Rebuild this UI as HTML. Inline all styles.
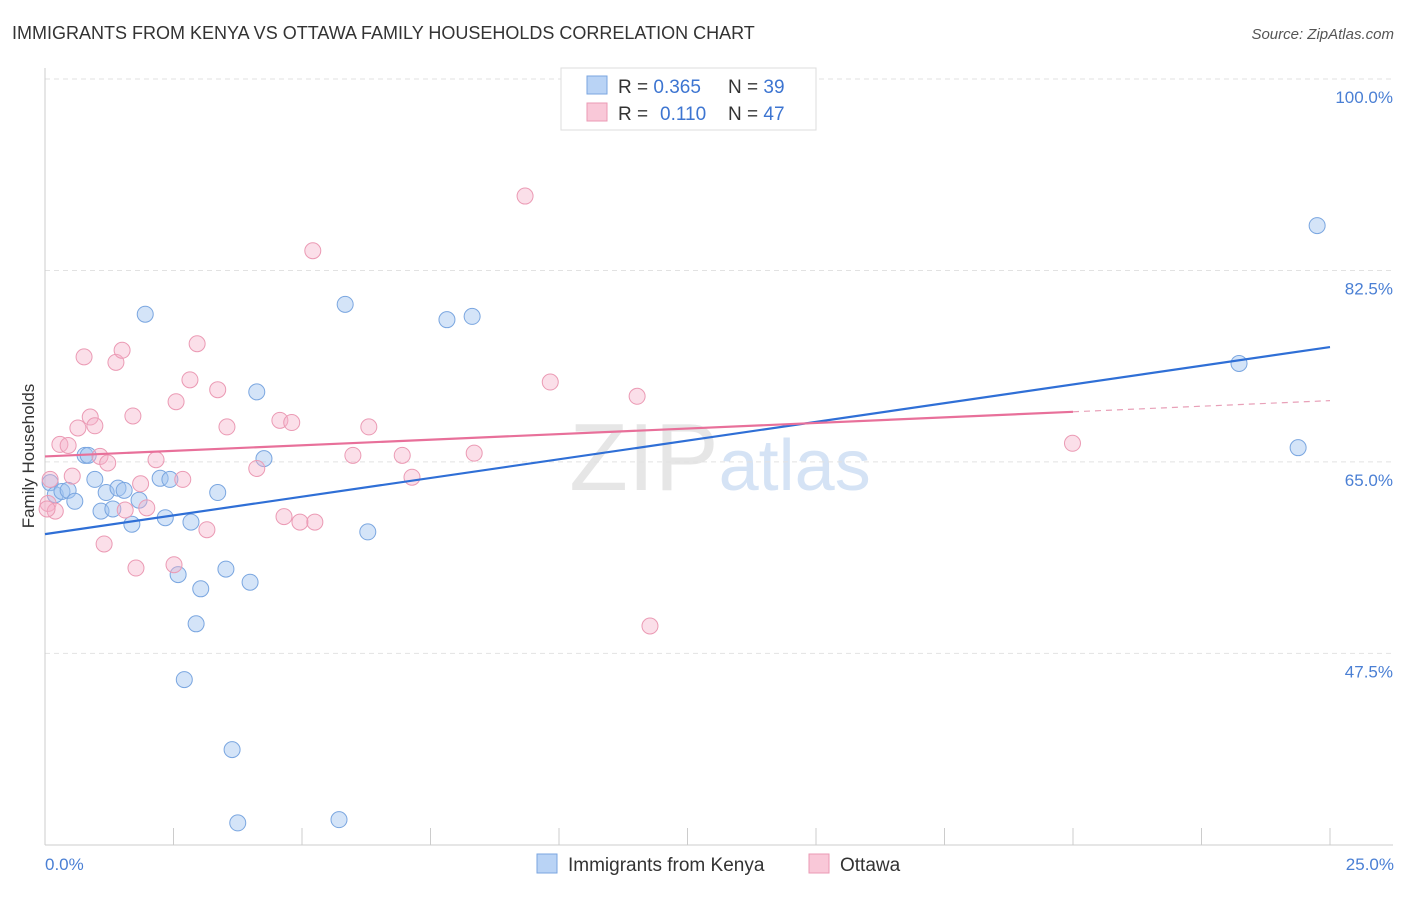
<!DOCTYPE html>
<html><head><meta charset="utf-8"><style>
body{margin:0;background:#fff;font-family:"Liberation Sans",sans-serif;}
svg text{font-family:"Liberation Sans",sans-serif;}
</style></head><body>
<svg id="chart" width="1406" height="892" xmlns="http://www.w3.org/2000/svg">
<text x="12" y="39" font-size="18" fill="#333">IMMIGRANTS FROM KENYA VS OTTAWA FAMILY HOUSEHOLDS CORRELATION CHART</text>
<text x="1394" y="39" font-size="15" fill="#555" text-anchor="end" font-style="italic">Source: ZipAtlas.com</text>
<text x="720" y="490" font-size="96" fill="#e6e6e6" text-anchor="middle" font-family="Liberation Serif">ZIP<tspan fill="#d5e3f5" font-family="Liberation Sans" font-size="72">atlas</tspan></text>
<g id="grid"></g>
<line x1="45" y1="68" x2="45" y2="845" stroke="#ccc"/>
<line x1="45" y1="845" x2="1393" y2="845" stroke="#ccc"/>
<g id="xticks"></g>
<text transform="translate(34,456) rotate(-90)" font-size="17" fill="#333" text-anchor="middle">Family Households</text>
<text x="45" y="870" font-size="17" fill="#4a7fd4">0.0%</text>
<text x="1394" y="870" font-size="17" fill="#4a7fd4" text-anchor="end">25.0%</text>
<g id="points"></g>
<g id="lines"></g>
<g>
<rect x="561" y="68" width="255" height="62" fill="#fff" stroke="#ddd"/>
<rect x="587" y="76" width="20" height="18" fill="#b9d3f5" stroke="#7aa6e0"/>
<rect x="587" y="103" width="20" height="18" fill="#f9c8d8" stroke="#eb9ab4"/>
<text x="618" y="93" font-size="19" fill="#333">R = <tspan fill="#3d75d1">0.365</tspan><tspan x="728">N = </tspan><tspan fill="#3d75d1">39</tspan></text>
<text x="618" y="120" font-size="19" fill="#333">R = <tspan fill="#3d75d1" x="660">0.110</tspan><tspan x="728">N = </tspan><tspan fill="#3d75d1">47</tspan></text>
</g>
<g>
<rect x="537" y="854" width="20" height="19" fill="#b9d3f5" stroke="#7aa6e0"/>
<text x="568" y="871" font-size="19" fill="#333">Immigrants from Kenya</text>
<rect x="809" y="854" width="20" height="19" fill="#f9c8d8" stroke="#eb9ab4"/>
<text x="840" y="871" font-size="19" fill="#333">Ottawa</text>
</g>
</svg>
<script>
const yTicks=[100,82.5,65,47.5];
const yTickLabels=["100.0%","82.5%","65.0%","47.5%"];
const xTicks=[0,2.5,5,7.5,10,12.5,15,17.5,20,22.5,25];
const kenyaX=[0.1,0.2,0.33,0.45,0.58,0.78,0.84,0.97,1.09,1.19,1.32,1.42,1.54,1.69,1.83,1.95,2.24,2.34,2.43,2.59,2.71,2.84,2.94,3.03,3.36,3.52,3.64,3.75,3.99,4.12,4.26,5.72,5.84,6.28,7.82,8.31,23.23,24.38,24.75];
const kenyaY=[63.1,62.0,62.3,62.4,61.4,65.6,65.6,63.4,60.5,62.2,60.7,62.6,62.4,59.3,61.5,78.5,63.5,59.9,63.4,54.7,45.1,59.5,50.2,53.4,62.2,55.2,38.7,32.0,54.0,71.4,65.3,32.3,79.4,58.6,78.0,78.3,74.0,66.3,86.6];
const ottawaX=[0.1,0.06,0.2,0.29,0.45,0.53,0.64,0.76,0.88,0.97,1.07,1.15,1.22,1.38,1.5,1.56,1.71,1.77,1.86,1.98,2.16,2.51,2.55,2.68,2.82,2.96,3.15,3.36,3.54,4.12,4.57,4.65,4.8,4.96,5.21,5.25,5.99,6.3,6.95,7.14,8.35,9.34,9.83,11.52,11.77,19.99,0.04];
const ottawaY=[63.4,61.2,60.5,66.6,66.5,63.7,68.1,74.6,69.1,68.3,65.5,57.5,64.9,74.1,75.2,60.6,69.2,55.3,63.0,60.8,65.2,55.6,70.5,63.4,72.5,75.8,58.8,71.6,68.2,64.4,68.8,60.0,68.6,59.5,84.3,59.5,65.6,68.2,65.6,63.6,65.8,89.3,72.3,71.0,50.0,66.7,60.7];
const kenyaLine=[58.4,75.5];
const ottawaLine=[65.5,70.6];
const ottawaSolidEnd=20;
const X=v=>45+v/25*1285, Y=v=>79+(100-v)*10.94;
const NS="http://www.w3.org/2000/svg";
function mk(tag,attrs,parent){const e=document.createElementNS(NS,tag);for(const k in attrs)e.setAttribute(k,attrs[k]);document.getElementById(parent).appendChild(e);return e;}
yTicks.forEach((t,i)=>{
 const l=mk('line',{x1:45,x2:1393,y1:Y(t),y2:Y(t),stroke:'#e2e2e2','stroke-dasharray':'5,4'},'grid');
 
 
 const tx=mk('text',{x:1393,y:Y(t)+24,'font-size':17,fill:'#4a7fd4','text-anchor':'end'},'grid');
 tx.textContent=yTickLabels[i];
 
 
});
xTicks.forEach(t=>{
 const l=mk('line',{x1:X(t),x2:X(t),y1:828,y2:845,stroke:'#ccc'},'xticks');
 
 
});
kenyaX.forEach((x,i)=>{
 const c=mk('circle',{cx:X(x),cy:Y(kenyaY[i]),r:8,fill:'rgba(160,195,240,0.45)',stroke:'#7aa6e0','stroke-width':1},'points');
 
 
});
ottawaX.forEach((x,i)=>{
 const c=mk('circle',{cx:X(x),cy:Y(ottawaY[i]),r:8,fill:'rgba(245,175,200,0.4)',stroke:'#eb9ab4','stroke-width':1},'points');
 
 
});
const kl=mk('line',{x1:X(0),y1:Y(kenyaLine[0]),x2:X(25),y2:Y(kenyaLine[1]),stroke:'#2f6fd6','stroke-width':2.2},'lines');


const oAt=v=>ottawaLine[0]+(ottawaLine[1]-ottawaLine[0])*v/25;
const ol=mk('line',{x1:X(0),y1:Y(oAt(0)),x2:X(ottawaSolidEnd),y2:Y(oAt(ottawaSolidEnd)),stroke:'#e8709a','stroke-width':2.2},'lines');


const od=mk('line',{x1:X(ottawaSolidEnd),y1:Y(oAt(ottawaSolidEnd)),x2:X(25),y2:Y(oAt(25)),stroke:'#e8a0b8','stroke-width':1.2,'stroke-dasharray':'6,5'},'lines');


</script>
</body></html>
